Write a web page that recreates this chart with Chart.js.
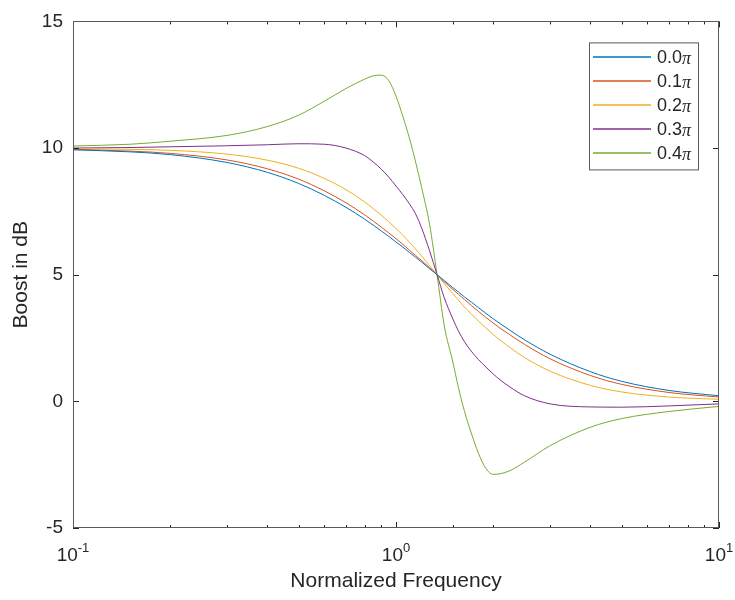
<!DOCTYPE html>
<html>
<head>
<meta charset="utf-8">
<script src="https://cdn.jsdelivr.net/npm/chart.js@4.4.1/dist/chart.umd.min.js"></script>
<style>
  html, body { margin: 0; padding: 0; background: #fff; }
  #wrap { width: 735px; height: 600px; }
</style>
</head>
<body>
<div id="wrap"><canvas id="shelfChart" width="735" height="600"></canvas></div>
<script>
// normalized frequency samples (log axis)
const freq = [0.1, 0.15, 0.2, 0.3, 0.4, 0.5, 0.6, 0.7, 0.8, 0.85,
              0.9, 0.95, 1.0, 1.05, 1.1, 1.15, 1.2, 1.27, 1.34, 1.41,
              1.5, 1.56, 1.63, 1.71, 1.8, 1.9, 2.0, 2.1, 2.25, 2.5,
              3, 4, 5, 7, 10];

// boost in dB for each pole angle
const gain00 = [9.93, 9.85, 9.74, 9.43, 9.04, 8.60, 8.13, 7.66, 7.19, 6.96,
                6.73, 6.51, 6.29, 6.09, 5.88, 5.69, 5.50, 5.24, 5.00, 4.77,
                4.49, 4.32, 4.12, 3.92, 3.70, 3.47, 3.26, 3.07, 2.81, 2.43,
                1.86, 1.17, 0.79, 0.43, 0.22];
const gain01 = [9.95, 9.88, 9.79, 9.53, 9.18, 8.77, 8.31, 7.84, 7.36, 7.12,
                6.88, 6.65, 6.42, 6.20, 5.97, 5.76, 5.56, 5.28, 5.00, 4.72,
                4.42, 4.23, 4.02, 3.79, 3.55, 3.31, 3.09, 2.89, 2.63, 2.25,
                1.68, 1.02, 0.67, 0.35, 0.17];
const gain02 = [9.98, 9.95, 9.91, 9.76, 9.52, 9.20, 8.80, 8.36, 7.87, 7.61,
                7.35, 7.09, 6.82, 6.56, 6.28, 6.01, 5.74, 5.36, 5.00, 4.65,
                4.25, 4.00, 3.72, 3.45, 3.17, 2.89, 2.64, 2.42, 2.13, 1.73,
                1.19, 0.63, 0.37, 0.17, 0.08];
const gain03 = [10.00, 10.02, 10.05, 10.09, 10.13, 10.17, 10.15, 10.00, 9.70, 9.45,
                9.17, 8.85, 8.50, 8.16, 7.80, 7.40, 6.85, 5.95, 5.00, 4.10,
                3.25, 2.78, 2.35, 1.98, 1.65, 1.35, 1.08, 0.85, 0.57, 0.22,
                -0.10, -0.22, -0.23, -0.18, -0.10];
const gain04 = [10.08, 10.15, 10.27, 10.50, 10.85, 11.30, 11.85, 12.35, 12.72, 12.85,
                12.88, 12.66, 12.05, 11.25, 10.40, 9.45, 8.45, 7.00, 5.00, 3.00,
                1.55, 0.55, -0.40, -1.25, -2.05, -2.66, -2.88, -2.86, -2.74, -2.40,
                -1.75, -1.02, -0.68, -0.40, -0.20];

const seriesLabels = ['0.0π', '0.1π', '0.2π', '0.3π', '0.4π'];
const seriesColors = ['#0072BD', '#D95319', '#EDB120', '#7E2F8E', '#77AC30'];

const xDecades = [0.1, 1, 10];
const xDecadeExps = ['-1', '0', '1'];

const FONT = '"Liberation Sans", Arial, Helvetica, sans-serif';
const INK = '#262626';

const allGains = [gain00, gain01, gain02, gain03, gain04];

const datasets = allGains.map((g, i) => ({
    label: seriesLabels[i],
    data: freq.map((f, k) => ({x: f, y: g[k]})),
    borderColor: seriesColors[i],
    backgroundColor: seriesColors[i],
    borderWidth: 1,
    pointRadius: 0,
    cubicInterpolationMode: 'monotone',
    fill: false
}));

function isDecade(v) {
    const l = Math.log10(v);
    return Math.abs(l - Math.round(l)) < 1e-6;
}

// box, inward ticks on all four sides, x decade labels and legend
const matlabAxes = {
    id: 'matlabAxes',
    afterDraw(chart) {
        const {ctx, chartArea: a, scales} = chart;
        const xs = scales.x, ys = scales.y;
        ctx.save();
        ctx.strokeStyle = INK;
        ctx.lineWidth = 1;

        ctx.beginPath();
        ys.ticks.forEach(t => {
            const py = Math.round(ys.getPixelForValue(t.value)) + 0.5;
            ctx.moveTo(a.left, py); ctx.lineTo(a.left + 6, py);
            ctx.moveTo(a.right, py); ctx.lineTo(a.right - 6, py);
        });
        xs.ticks.forEach(t => {
            const px = Math.round(xs.getPixelForValue(t.value)) + 0.5;
            const len = isDecade(t.value) ? 6 : 3;
            ctx.moveTo(px, a.bottom); ctx.lineTo(px, a.bottom - len);
            ctx.moveTo(px, a.top); ctx.lineTo(px, a.top + len);
        });
        ctx.stroke();

        ctx.strokeStyle = '#5a5a5a';
        ctx.strokeRect(Math.round(a.left) + 0.5, Math.round(a.top) + 0.5,
                       Math.round(a.right - a.left) - 1, Math.round(a.bottom - a.top) - 1);

        // 10^n labels
        ctx.fillStyle = INK;
        ctx.textBaseline = 'alphabetic';
        xDecades.forEach((v, i) => {
            const px = xs.getPixelForValue(v);
            ctx.font = '19px ' + FONT;
            const wb = ctx.measureText('10').width;
            ctx.font = '13px ' + FONT;
            const we = ctx.measureText(xDecadeExps[i]).width;
            const x0 = px - (wb + we) / 2;
            const base = a.bottom + 33;
            ctx.font = '19px ' + FONT;
            ctx.textAlign = 'left';
            ctx.fillText('10', x0, base);
            ctx.font = '13px ' + FONT;
            ctx.fillText(xDecadeExps[i], x0 + wb, base - 9);
        });

        // legend box
        const bx = a.right - 130, by = a.top + 21, bw = 109, bh = 127;
        ctx.fillStyle = '#fff';
        ctx.fillRect(bx, by, bw, bh);
        ctx.strokeStyle = '#5a5a5a';
        ctx.strokeRect(bx + 0.5, by + 0.5, bw, bh);
        chart.data.datasets.forEach((ds, i) => {
            const ly = Math.round(by + 15 + i * 24);
            ctx.beginPath();
            ctx.strokeStyle = ds.borderColor;
            ctx.lineWidth = 1.3;
            ctx.moveTo(bx + 4, ly);
            ctx.lineTo(bx + 62, ly);
            ctx.stroke();
            const num = ds.label.replace('π', '');
            ctx.fillStyle = INK;
            ctx.textBaseline = 'middle';
            ctx.textAlign = 'left';
            ctx.font = '18px ' + FONT;
            ctx.fillText(num, bx + 68, ly + 1);
            const wn = ctx.measureText(num).width;
            ctx.font = 'italic 18px "Liberation Serif", "Times New Roman", serif';
            ctx.fillText('π', bx + 68 + wn, ly + 2);
        });
        ctx.restore();
    }
};

new Chart(document.getElementById('shelfChart'), {
    type: 'line',
    data: {datasets},
    options: {
        responsive: false,
        devicePixelRatio: 1,
        animation: false,
        layout: {padding: {left: 0, right: 16, top: 17, bottom: 0}},
        plugins: {legend: {display: false}, tooltip: {enabled: false}},
        scales: {
            x: {
                type: 'logarithmic',
                min: 0.1,
                max: 10,
                grid: {display: false, drawTicks: false},
                border: {display: false},
                ticks: {autoSkip: false, maxRotation: 0, callback: () => ''},
                title: {
                    display: true,
                    text: 'Normalized Frequency',
                    color: INK,
                    font: {size: 21, family: FONT},
                    padding: {top: 0, bottom: 6}
                },
                afterFit(s) { s.height = 72; }
            },
            y: {
                min: -5,
                max: 15,
                grid: {display: false, drawTicks: false},
                border: {display: false},
                ticks: {stepSize: 5, color: INK, padding: 10, font: {size: 19, family: FONT}},
                title: {
                    display: true,
                    text: 'Boost in dB',
                    color: INK,
                    font: {size: 21, family: FONT},
                    padding: {top: 9, bottom: 0}
                },
                afterFit(s) { s.width = 73; }
            }
        }
    },
    plugins: [matlabAxes]
});
</script>
</body>
</html>
